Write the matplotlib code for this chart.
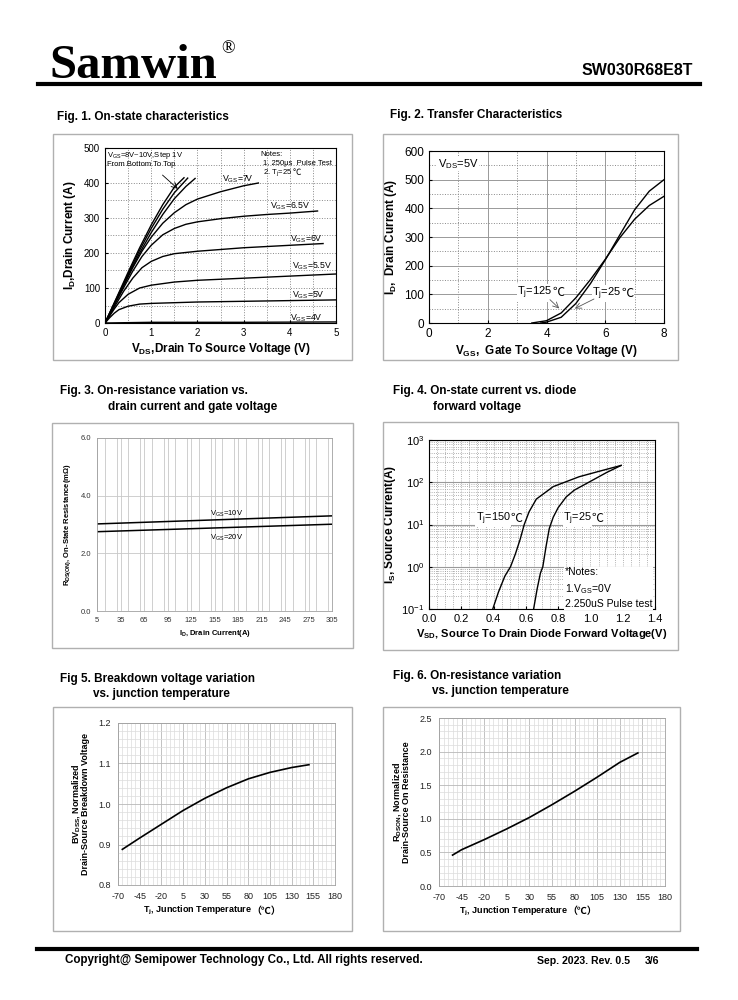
import numpy as np
import matplotlib
matplotlib.use('Agg')
import matplotlib.pyplot as plt
from matplotlib.patches import Rectangle
from matplotlib.ticker import MultipleLocator, LogLocator, NullFormatter

plt.rcParams['font.family'] = ['Liberation Sans', 'DejaVu Sans']
plt.rcParams['mathtext.fontset'] = 'custom'
plt.rcParams['mathtext.rm'] = 'Liberation Sans'
plt.rcParams['mathtext.bf'] = 'Liberation Sans:bold'
plt.rcParams['mathtext.it'] = 'Liberation Sans'
plt.rcParams['axes.unicode_minus'] = False

CJK = 'Noto Sans CJK SC'

# Fig 1 - output curves, V_DS (V) / I_D (A)
vgs_labels = ['4V', '5V', '5.5V', '6V', '6.5V', '7V']
out_v = {
    '4V':   [0, 0.5, 1, 2, 3, 4, 5],
    '5V':   [0, 0.1, 0.2, 0.3, 0.5, 0.75, 1, 1.5, 2, 3, 4, 5],
    '5.5V': [0, 0.1, 0.2, 0.3, 0.5, 0.75, 1, 1.5, 2, 3, 4, 5],
    '6V':   [0, 0.2, 0.4, 0.6, 0.8, 1, 1.25, 1.5, 2, 2.5, 3, 4, 4.72],
    '6.5V': [0, 0.2, 0.4, 0.6, 0.8, 1, 1.25, 1.5, 1.75, 2, 2.5, 3, 3.5, 4, 4.6],
    '7V':   [0, 0.2, 0.4, 0.6, 0.8, 1, 1.25, 1.5, 1.75, 2, 2.5, 3, 3.32],
    '8V':   [0, 0.25, 0.5, 0.75, 1, 1.25, 1.5, 1.75, 1.95],
    '9V':   [0, 0.25, 0.5, 0.75, 1, 1.25, 1.5, 1.79],
    '10V':  [0, 0.25, 0.5, 0.75, 1, 1.25, 1.5, 1.71],
}
out_i = {
    '4V':   [0, 1, 2, 2, 2, 2.5, 3],
    '5V':   [0, 15, 28, 38, 48, 54, 56, 58, 60, 62, 64, 66],
    '5.5V': [0, 20, 40, 58, 82, 100, 108, 117, 122, 128, 134, 140],
    '6V':   [0, 45, 90, 128, 158, 176, 190, 198, 205, 210, 215, 222, 227],
    '6.5V': [0, 50, 100, 148, 190, 222, 252, 270, 282, 289, 298, 305, 310, 314, 320],
    '7V':   [0, 52, 105, 158, 205, 245, 285, 315, 338, 354, 375, 392, 400],
    '8V':   [0, 68, 135, 200, 258, 310, 355, 390, 413],
    '9V':   [0, 70, 140, 208, 270, 325, 372, 414],
    '10V':  [0, 72, 145, 215, 280, 338, 388, 415],
}

# Fig 2 - transfer curves, V_GS (V) / I_D (A)
tr_v125 = [3.5, 4.0, 4.5, 5.0, 5.5, 6.0, 6.5, 7.0, 7.5, 8.0]
tr_i125 = [0, 8, 35, 88, 152, 222, 298, 362, 410, 442]
tr_v25 = [3.8, 4.0, 4.5, 5.0, 5.5, 6.0, 6.5, 7.0, 7.5, 8.0]
tr_i25 = [0, 3, 20, 68, 138, 220, 308, 395, 460, 500]

# Fig 3 - Rds(on) vs I_D
rds_id = [5, 305]
rds_10v = [3.02, 3.30]
rds_20v = [2.75, 3.01]

# Fig 4 - body diode, V_SD (V) / I_S (A)
bd_v150 = [0.395, 0.43, 0.47, 0.505, 0.535, 0.565, 0.59, 0.62, 0.665, 0.77, 0.93, 1.05, 1.19]
bd_i150 = [0.1, 0.25, 0.6, 1, 2, 4.5, 10, 20, 40, 79, 135, 180, 250]
bd_v25 = [0.648, 0.67, 0.69, 0.705, 0.725, 0.745, 0.77, 0.8, 0.85, 0.9, 1.0, 1.1, 1.19]
bd_i25 = [0.1, 0.3, 0.7, 1, 3, 8, 15, 25, 45, 65, 105, 170, 250]

# Fig 5 - BVdss vs Tj
bv_t = [-65, -45, -20, 5, 30, 55, 80, 105, 130, 150]
bv_n = [0.888, 0.916, 0.950, 0.984, 1.014, 1.040, 1.062, 1.078, 1.090, 1.097]

# Fig 6 - Rds(on) vs Tj
rt_t = [-55, -45, -20, 5, 30, 55, 80, 105, 130, 150]
rt_n = [0.46, 0.54, 0.69, 0.85, 1.02, 1.21, 1.41, 1.62, 1.84, 1.98]

W, H = 738, 1000
fig = plt.figure(figsize=(W / 100, H / 100), dpi=100)


def ax_px(x0, x1, ytop, ybot):
    return fig.add_axes([x0 / W, 1 - ybot / H, (x1 - x0) / W, (ybot - ytop) / H])


def txt(x, y, s, **kw):
    fig.text(x / W, 1 - y / H, s, **kw)


def frame(x0, x1, ytop, ybot):
    fig.patches.append(Rectangle((x0 / W, 1 - ybot / H), (x1 - x0) / W, (ybot - ytop) / H,
                                 transform=fig.transFigure, fill=False, ec='#b0b0b0', lw=1.0))


# text with a mathtext part followed by a CJK-font part (for ℃ and （）)
def two_part(ax, x, y, pre, post, fs, white=False, weight='normal', transform=None):
    bb = dict(fc='white', ec='none', pad=0.3) if white else None
    kw = {} if transform is None else {'transform': transform}
    t = ax.text(x, y, pre, fontsize=fs, va='center', weight=weight, bbox=bb, **kw)
    ax.annotate(post, xy=(1, 0.5), xycoords=t, va='center', ha='left', fontsize=fs * 1.1,
                family=CJK, weight=weight, bbox=bb)
    return t


# header / footer
txt(49, 78, 'Samwin', family='Liberation Serif', weight='bold', fontsize=35, va='baseline')
txt(221, 49, '®', family='Liberation Serif', fontsize=13, va='center')
txt(693, 70, 'SW030R68E8T', weight='bold', fontsize=11.5, ha='right', va='center')
fig.add_artist(plt.Line2D([38 / W, 700 / W], [1 - 84 / H, 1 - 84 / H], color='black', lw=3))
fig.add_artist(plt.Line2D([37 / W, 697 / W], [1 - 949 / H, 1 - 949 / H], color='black', lw=3))
txt(65, 960, 'Copyright@ Semipower Technology Co., Ltd. All rights reserved.', weight='bold', fontsize=8.4, va='center')
txt(537, 961, 'Sep. 2023. Rev. 0.5', weight='bold', fontsize=7.6, va='center')
txt(645, 961, '3/6', weight='bold', fontsize=7.6, va='center')

# titles
tkw = dict(weight='bold', fontsize=8.5, va='center')
txt(57, 117, 'Fig. 1. On-state characteristics', **tkw)
txt(390, 115, 'Fig. 2. Transfer Characteristics', **tkw)
txt(60, 391, 'Fig. 3. On-resistance variation vs.', **tkw)
txt(108, 407, 'drain current and gate voltage', **tkw)
txt(393, 391, 'Fig. 4. On-state current vs. diode', **tkw)
txt(433, 407, 'forward voltage', **tkw)
txt(60, 679, 'Fig 5. Breakdown voltage variation', **tkw)
txt(93, 694, 'vs. junction temperature', **tkw)
txt(393, 676, 'Fig. 6. On-resistance variation', **tkw)
txt(432, 691, 'vs. junction temperature', **tkw)

for box in [(53, 352, 134, 360), (383, 678, 134, 360), (52, 353, 423, 648),
            (383, 678, 422, 650), (53, 352, 707, 931), (383, 680, 707, 931)]:
    frame(*box)

# ---- Fig 1
ax1 = ax_px(105, 336, 148, 323)
for k in ['4V', '5V', '5.5V', '6V', '6.5V', '7V', '8V', '9V', '10V']:
    ax1.plot(out_v[k], out_i[k], color='black', lw=1.0)
ax1.set_xlim(0, 5)
ax1.set_ylim(0, 500)
ax1.xaxis.set_major_locator(MultipleLocator(1))
ax1.yaxis.set_major_locator(MultipleLocator(100))
ax1.xaxis.set_minor_locator(MultipleLocator(0.5))
ax1.yaxis.set_minor_locator(MultipleLocator(50))
ax1.grid(which='both', color='#888888', ls=':', lw=0.7)
ax1.tick_params(which='both', direction='in', labelsize=7, length=2)
ax1.tick_params(which='minor', length=0)
ax1.set_xlabel(r'V$_\mathbf{DS}$,Drain To Source Voltage (V)', weight='bold', fontsize=8.5, labelpad=2)
ax1.set_ylabel(r'I$_\mathbf{D}$,Drain Current (A)', weight='bold', fontsize=8.5, labelpad=4)
lab_pos = {'7V': (2.53, 412), '6.5V': (3.57, 333), '6V': (4.0, 240),
           '5.5V': (4.05, 162), '5V': (4.05, 79), '4V': (4.0, 14)}
for k in vgs_labels:
    x, y = lab_pos[k]
    ax1.text(x, y, r'V$_\mathrm{GS}$=' + k, fontsize=6.3, va='center')
ax1.text(0.05, 478, r'V$_\mathrm{GS}$=8V~10V,Step 1V', fontsize=5.5, va='center')
ax1.text(0.05, 453, 'From Bottom To Top', fontsize=5.5, va='center')
ax1.text(3.37, 482, 'Notes:', fontsize=5.5, va='center')
ax1.text(3.42, 456, '1. 250μs  Pulse Test', fontsize=5.5, va='center')
two_part(ax1, 3.42, 430, r'2. T$_\mathrm{j}$=25 ', '℃', 5.5)
ax1.annotate('', xy=(1.62, 378), xytext=(1.2, 428),
             arrowprops=dict(arrowstyle='->', lw=0.6, color='black'))

# ---- Fig 2
ax2 = ax_px(429, 664, 151, 323)
ax2.plot(tr_v125, tr_i125, color='black', lw=1.0)
ax2.plot(tr_v25, tr_i25, color='black', lw=1.0)
ax2.set_xlim(0, 8)
ax2.set_ylim(0, 600)
ax2.xaxis.set_major_locator(MultipleLocator(2))
ax2.xaxis.set_minor_locator(MultipleLocator(1))
ax2.yaxis.set_major_locator(MultipleLocator(100))
ax2.yaxis.set_minor_locator(MultipleLocator(50))
ax2.grid(which='major', color='#999999', ls='-', lw=0.7)
ax2.grid(which='minor', color='#888888', ls=':', lw=0.7)
ax2.tick_params(which='both', direction='in', labelsize=8.5, length=2)
ax2.tick_params(which='minor', length=0)
ax2.set_xlabel(r'V$_\mathbf{GS}$,  Gate To Source Voltage (V)', weight='bold', fontsize=8.5, labelpad=2)
ax2.set_ylabel(r'I$_\mathbf{D}$,  Drain Current (A)', weight='bold', fontsize=8.5, labelpad=4)
ax2.text(0.3, 556, r'V$_\mathrm{DS}$=5V', fontsize=8, va='center',
         bbox=dict(fc='white', ec='none', pad=0.5))
two_part(ax2, 3.0, 105, r'T$_\mathrm{j}$=125', '℃', 8, white=True)
two_part(ax2, 5.55, 102, r'T$_\mathrm{j}$=25', '℃', 8, white=True)
ax2.annotate('', xy=(4.5, 44), xytext=(4.05, 88),
             arrowprops=dict(arrowstyle='->', lw=0.6, color='#555555'))
ax2.annotate('', xy=(4.88, 46), xytext=(5.7, 88),
             arrowprops=dict(arrowstyle='->', lw=0.6, color='#555555'))

# ---- Fig 3
ax3 = ax_px(97, 332, 438, 611)
ax3.plot(rds_id, rds_10v, color='black', lw=1.1)
ax3.plot(rds_id, rds_20v, color='black', lw=1.1)
ax3.set_xlim(5, 305)
ax3.set_ylim(0, 6)
ax3.set_xticks(np.arange(5, 306, 30))
ax3.xaxis.set_minor_locator(MultipleLocator(15))
ax3.set_yticks([0, 2, 4, 6])
ax3.set_yticklabels(['0.0', '2.0', '4.0', '6.0'])
ax3.grid(which='both', axis='x', color='#c8c8c8', lw=0.6)
ax3.grid(which='major', axis='y', color='#c8c8c8', lw=0.6)
for s in ax3.spines.values():
    s.set_color('#a0a0a0')
    s.set_linewidth(0.6)
ax3.tick_params(which='both', length=0, labelsize=5.5, labelcolor='#333333', pad=4)
ax3.set_xlabel(r'I$_\mathbf{D}$, Drain Current(A)', weight='bold', fontsize=5.5, labelpad=3)
ax3.set_ylabel(r'R$_\mathbf{DS(ON)}$, On-State Resistance(mΩ)', weight='bold', fontsize=5.5, labelpad=6)
ax3.text(149, 3.38, r'V$_\mathrm{GS}$=10V', fontsize=5.5, va='center')
ax3.text(149, 2.54, r'V$_\mathrm{GS}$=20V', fontsize=5.5, va='center')

# ---- Fig 4
ax4 = ax_px(429, 655, 440, 609)
ax4.plot(bd_v150, bd_i150, color='black', lw=1.0)
ax4.plot(bd_v25, bd_i25, color='black', lw=1.0)
ax4.set_yscale('log')
ax4.set_xlim(0, 1.4)
ax4.set_ylim(0.1, 1000)
ax4.xaxis.set_minor_locator(MultipleLocator(0.05))
ax4.yaxis.set_major_locator(LogLocator(base=10, numticks=10))
ax4.yaxis.set_minor_locator(LogLocator(base=10, subs=np.arange(2, 10), numticks=20))
ax4.yaxis.set_minor_formatter(NullFormatter())
ax4.set_xticks(np.arange(0, 1.41, 0.2))
ax4.set_xticklabels([f'{v:.1f}' for v in np.arange(0, 1.41, 0.2)])
ax4.grid(which='major', axis='y', color='#999999', ls='-', lw=0.8)
ax4.grid(which='minor', axis='y', color='#999999', ls=':', lw=0.6)
ax4.grid(which='both', axis='x', color='#999999', ls=':', lw=0.6)
ax4.tick_params(which='both', direction='in', labelsize=8, length=2)
ax4.tick_params(which='minor', length=0)
ax4.set_xlabel(r'V$_\mathbf{SD}$, Source To Drain Diode Forward Voltage(V)', weight='bold', fontsize=8, labelpad=2)
ax4.set_ylabel(r'I$_\mathbf{S}$, Source Current(A)', weight='bold', fontsize=8.5)
ax4.yaxis.set_label_coords(-0.135, 0.5)
two_part(ax4, 0.29, 14, r'T$_\mathrm{j}$=150', '℃', 7.8, white=True)
two_part(ax4, 0.83, 14, r'T$_\mathrm{j}$=25', '℃', 7.8, white=True)
ax4.text(0.84, 0.31,
         '*Notes:\n' + r'1.V$_\mathrm{GS}$=0V' + '\n2.250uS Pulse test',
         fontsize=7.5, va='center', linespacing=1.45,
         bbox=dict(fc='white', ec='none', pad=0.5))


# ---- Fig 5 / Fig 6 (excel style)
def excel_axes(ax, ymin, ymax, ymaj, ymin_step, lab_x, lab_y):
    ax.set_xlim(-70, 180)
    ax.set_ylim(ymin, ymax)
    ax.set_xticks(np.arange(-70, 181, 25))
    ax.xaxis.set_minor_locator(MultipleLocator(5))
    yt = np.arange(ymin, ymax + 1e-9, ymaj)
    ax.set_yticks(yt)
    ax.set_yticklabels([f'{v:.1f}' for v in yt])
    ax.yaxis.set_minor_locator(MultipleLocator(ymin_step))
    ax.grid(which='major', color='#b8b8b8', lw=0.6)
    ax.grid(which='minor', color='#dcdcdc', lw=0.5)
    for s in ax.spines.values():
        s.set_color('#a0a0a0')
        s.set_linewidth(0.6)
    ax.tick_params(which='both', length=0, labelsize=6.5, labelcolor='#222222', pad=5)
    two_part(ax, lab_x, lab_y, r'T$_\mathbf{j}$, Junction Temperature', '（℃）', 6.5,
             weight='bold', transform=ax.transAxes)


ax5 = ax_px(118, 335, 723, 885)
ax5.plot(bv_t, bv_n, color='black', lw=1.2)
excel_axes(ax5, 0.8, 1.2, 0.1, 0.02, 0.115, -0.16)
ax5.set_ylabel('BV$_\\mathbf{DSS}$, Normalized\nDrain-Source Breakdown Voltage',
               weight='bold', fontsize=6.5, labelpad=6, linespacing=0.95)

ax6 = ax_px(439, 665, 718, 886)
ax6.plot(rt_t, rt_n, color='black', lw=1.2)
excel_axes(ax6, 0.0, 2.5, 0.5, 0.1, 0.088, -0.15)
ax6.set_ylabel('R$_\\mathbf{DSON}$, Normalized\nDrain-Source On Resistance',
               weight='bold', fontsize=6.5, labelpad=6, linespacing=0.95)

fig.savefig('out.png', dpi=100, facecolor='white')
